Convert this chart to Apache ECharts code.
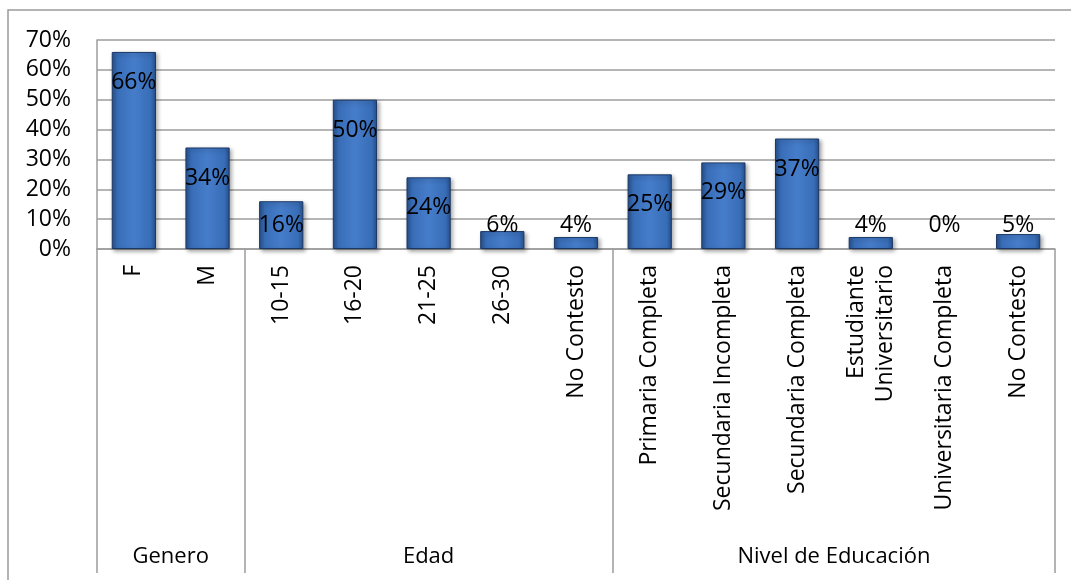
<!DOCTYPE html>
<html>
<head>
<meta charset="utf-8">
<script src="https://cdn.jsdelivr.net/npm/echarts@6/dist/echarts.min.js"></script>
<style>
  html, body { margin: 0; padding: 0; background: #ffffff; }
  #chart { width: 1071px; height: 580px; }
</style>
</head>
<body>
<div id="chart"></div>
<script>
// Survey profile: share of respondents per category (%)
const categories = [
  'F', 'M',
  '10-15', '16-20', '21-25', '26-30', 'No Contesto',
  'Primaria Completa', 'Secundaria Incompleta', 'Secundaria Completa',
  'Estudiante\nUniversitario', 'Universitaria Completa', 'No Contesto'
];
const values = [66, 34, 16, 50, 24, 6, 4, 25, 29, 37, 4, 0, 5];

// Category groups: name and number of categories each spans
const groupNames = ['Genero', 'Edad', 'Nivel de Educación'];
const groupSizes = [2, 5, 6];

const yTicks = { min: 0, max: 70, step: 10 };

// Group boundaries and centres in category units
const bounds = [0];
groupSizes.forEach(n => bounds.push(bounds[bounds.length - 1] + n));
const centres = groupSizes.map((n, i) => bounds[i] + n / 2);

const FONT = '"Open Sans", "Noto Sans", sans-serif';
const GRID_GRAY = '#9c9c9c';

const barFill = {
  type: 'linear', x: 0, y: 0, x2: 1, y2: 0,
  colorStops: [
    { offset: 0, color: '#27508c' },
    { offset: 0.12, color: '#386db7' },
    { offset: 0.5, color: '#467dca' },
    { offset: 0.88, color: '#386db7' },
    { offset: 1, color: '#27508c' }
  ]
};

// Short bars carry their label just above the axis; taller ones below the top edge
const barData = values.map(v => ({
  value: v,
  itemStyle: v > 0 ? {} : { borderWidth: 0, shadowBlur: 0, shadowOffsetX: 0, shadowOffsetY: 0 },
  label: v < 19
    ? { position: 'insideBottom', distance: 12 }
    : { position: 'insideTop', distance: 19 }
}));

const chart = echarts.init(document.getElementById('chart'));
chart.setOption({
  animation: false,
  backgroundColor: '#ffffff',
  textStyle: { fontFamily: FONT },
  graphic: [{
    type: 'rect',
    shape: { x: 8, y: 10, width: 1100, height: 620 },
    style: { fill: 'none', stroke: '#9a9a9a', lineWidth: 1.5 },
    silent: true
  }],
  grid: { left: 97, right: 16, top: 40, bottom: 331 },
  xAxis: [{
    type: 'category',
    data: categories,
    axisLine: { show: true, lineStyle: { color: GRID_GRAY, width: 1.5 } },
    axisTick: { show: false },
    axisLabel: {
      rotate: 90,
      interval: 0,
      margin: 16,
      color: '#000',
      fontFamily: FONT,
      fontSize: 23,
      lineHeight: 29
    },
    splitLine: { show: false }
  }, {
    type: 'value',
    position: 'bottom',
    offset: 324,
    min: 0,
    max: bounds[bounds.length - 1],
    axisLine: { show: false },
    axisTick: {
      show: true,
      inside: true,
      length: 324,
      customValues: bounds,
      lineStyle: { color: GRID_GRAY, width: 1.5 }
    },
    axisLabel: {
      inside: true,
      margin: 5,
      customValues: centres,
      formatter: v => {
        const i = centres.indexOf(v);
        return i >= 0 ? groupNames[i] : '';
      },
      color: '#000',
      fontFamily: FONT,
      fontSize: 22
    },
    splitLine: { show: false }
  }],
  yAxis: {
    type: 'value',
    min: yTicks.min,
    max: yTicks.max,
    interval: yTicks.step,
    axisLine: { show: true, lineStyle: { color: GRID_GRAY, width: 1.5 } },
    axisTick: { show: false },
    axisLabel: {
      formatter: '{value}%',
      margin: 26,
      color: '#000',
      fontFamily: FONT,
      fontSize: 23
    },
    splitLine: { show: true, lineStyle: { color: GRID_GRAY, width: 1.5 } }
  },
  series: [{
    type: 'bar',
    xAxisIndex: 0,
    data: barData,
    barCategoryGap: '40%',
    itemStyle: {
      color: barFill,
      borderColor: '#1b3864',
      borderWidth: 1,
      shadowColor: 'rgba(0,0,0,0.35)',
      shadowBlur: 4,
      shadowOffsetX: 2,
      shadowOffsetY: 2
    },
    label: {
      show: true,
      formatter: '{c}%',
      color: '#000',
      fontFamily: FONT,
      fontSize: 23
    }
  }]
});
</script>
</body>
</html>
